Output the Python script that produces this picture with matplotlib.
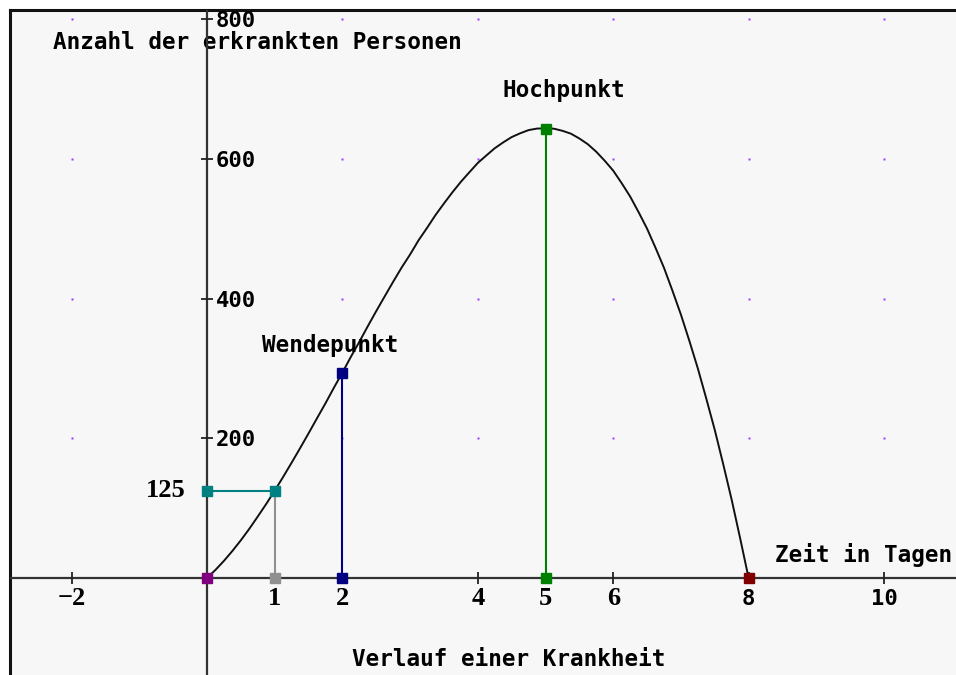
import matplotlib
matplotlib.use("Agg")
import matplotlib.pyplot as plt

# ---- data ----
days = [0, 0.125, 0.25, 0.375, 0.5, 0.625, 0.75, 0.875, 1, 1.125, 1.25, 1.375,
        1.5, 1.625, 1.75, 1.875, 2, 2.125, 2.25, 2.375, 2.5, 2.625, 2.75, 2.875,
        3, 3.125, 3.25, 3.375, 3.5, 3.625, 3.75, 3.875, 4, 4.125, 4.25, 4.375,
        4.5, 4.625, 4.75, 4.875, 5, 5.125, 5.25, 5.375, 5.5, 5.625, 5.75, 5.875,
        6, 6.125, 6.25, 6.375, 6.5, 6.625, 6.75, 6.875, 7, 7.125, 7.25, 7.375,
        7.5, 7.625, 7.75, 7.875, 8]
persons = [0, 11.6, 24.5, 38.7, 54, 70.4, 88, 106, 125, 144.7, 165, 185.8,
           207, 228.6, 250, 272.4, 294, 316.5, 338, 360.3, 382, 403.1, 424, 444.3,
           463, 483.3, 501, 519.4, 536, 552, 567, 580.6, 594, 604.6, 615, 623.4,
           631, 636.4, 641, 643.2, 643.5, 643, 640, 635.9, 629, 620.8, 610, 597.1,
           583, 565.1, 546, 523.6, 500, 472.6, 444, 411.2, 377, 339.4, 300, 256.7,
           212, 162.9, 112, 56.9, 0]

marked_x = [1, 2, 5]
marked_y = [125, 294, 643]
special_labels = ["Wendepunkt", "Hochpunkt"]
xtick_vals = [-2, 2, 4, 6, 8, 10]
xtick_labels_x = [-2, 1, 2, 4, 5, 6, 8, 10]
ytick_vals = [200, 400, 600, 800]
grid_x = [-2, 2, 4, 6, 8, 10]
grid_y = [200, 400, 600, 800]

PIX = "DejaVu Sans Mono"
SMOOTH = "Liberation Serif"

fig = plt.figure(figsize=(9.56, 6.75), dpi=100)
fig.patch.set_facecolor("white")
ax = fig.add_axes([10 / 956, 0, 946 / 956, 665 / 675])
ax.set_facecolor("#f7f7f7")
ax.set_xlim((10 - 207) / 67.7, (956 - 207) / 67.7)
ax.set_ylim((578 - 675) / 0.69875, (578 - 10) / 0.69875)
ax.set_xticks([])
ax.set_yticks([])
for s in ["right", "bottom"]:
    ax.spines[s].set_visible(False)
for s in ["left", "top"]:
    ax.spines[s].set_linewidth(2.2)
    ax.spines[s].set_color("#111111")

# grid dots
for gx in grid_x:
    for gy in grid_y:
        ax.plot(gx, gy, marker="s", ms=1.6, color="#9a3cff", mec="none", zorder=1)

# axes lines
ax.axhline(0, color="#333333", lw=1.6, zorder=4)
ax.axvline(0, color="#333333", lw=1.6, zorder=4)

# tick marks
ax.plot(xtick_vals, [0] * len(xtick_vals), ls="none", marker="|", ms=9,
        mew=1.3, color="#222222", zorder=4)
ax.plot([0] * len(ytick_vals), ytick_vals, ls="none", marker="_", ms=9,
        mew=1.3, color="#222222", zorder=4)

# curve
ax.plot(days, persons, color="#111111", lw=1.4, zorder=3)

# guide lines
ax.plot([0, marked_x[0]], [marked_y[0], marked_y[0]], color="#008080", lw=1.5, zorder=5)
ax.plot([marked_x[0], marked_x[0]], [0, marked_y[0]], color="#909090", lw=1.5, zorder=5)
ax.plot([marked_x[1], marked_x[1]], [0, marked_y[1]], color="#000080", lw=1.5, zorder=5)
ax.plot([marked_x[2], marked_x[2]], [0, marked_y[2]], color="#008000", lw=1.5, zorder=5)

# markers
msz = 7
def sq(x, y, c):
    ax.plot(x, y, marker="s", ms=msz, color=c, mec=c, zorder=6)
sq(0, 0, "#800080")
sq(0, marked_y[0], "#008080")
sq(marked_x[0], marked_y[0], "#008080")
sq(marked_x[0], 0, "#909090")
sq(marked_x[1], 0, "#000080")
sq(marked_x[1], marked_y[1], "#000080")
sq(marked_x[2], 0, "#008000")
sq(marked_x[2], marked_y[2], "#008000")
sq(8, 0, "#800000")

# y tick labels
for yv in ytick_vals:
    ax.text(0.13, yv - 3, str(yv), family=PIX, weight="bold", fontsize=16,
            ha="left", va="center", zorder=7)
ax.text(-0.31, marked_y[0], "125", family=SMOOTH, weight="bold", fontsize=19,
        ha="right", va="center", zorder=7)

# x tick labels
for xv in xtick_labels_x:
    lab = "\u22122" if xv < 0 else str(xv)
    fam = PIX if xv in (8, 10) else SMOOTH
    fs = 16 if xv in (8, 10) else 19
    ax.text(xv, -30, lab, family=fam, weight="bold", fontsize=fs,
            ha="center", va="center", zorder=7)

# titles / labels
ax.text(-2.275, 767, "Anzahl der erkrankten Personen", family=PIX, weight="bold",
        fontsize=16.3, ha="left", va="center", zorder=2)
ax.text(8.39, 33, "Zeit in Tagen", family=PIX, weight="bold", fontsize=16.3,
        ha="left", va="center", zorder=7)
ax.text(4.46, -116, "Verlauf einer Krankheit", family=PIX, weight="bold",
        fontsize=16.3, ha="center", va="center", zorder=7)
ax.text(1.82, 333, special_labels[0], family=PIX, weight="bold", fontsize=16.3,
        ha="center", va="center", zorder=7)
ax.text(5.27, 697, special_labels[1], family=PIX, weight="bold", fontsize=16.3,
        ha="center", va="center", zorder=7)

fig.savefig("out.png", dpi=100)
